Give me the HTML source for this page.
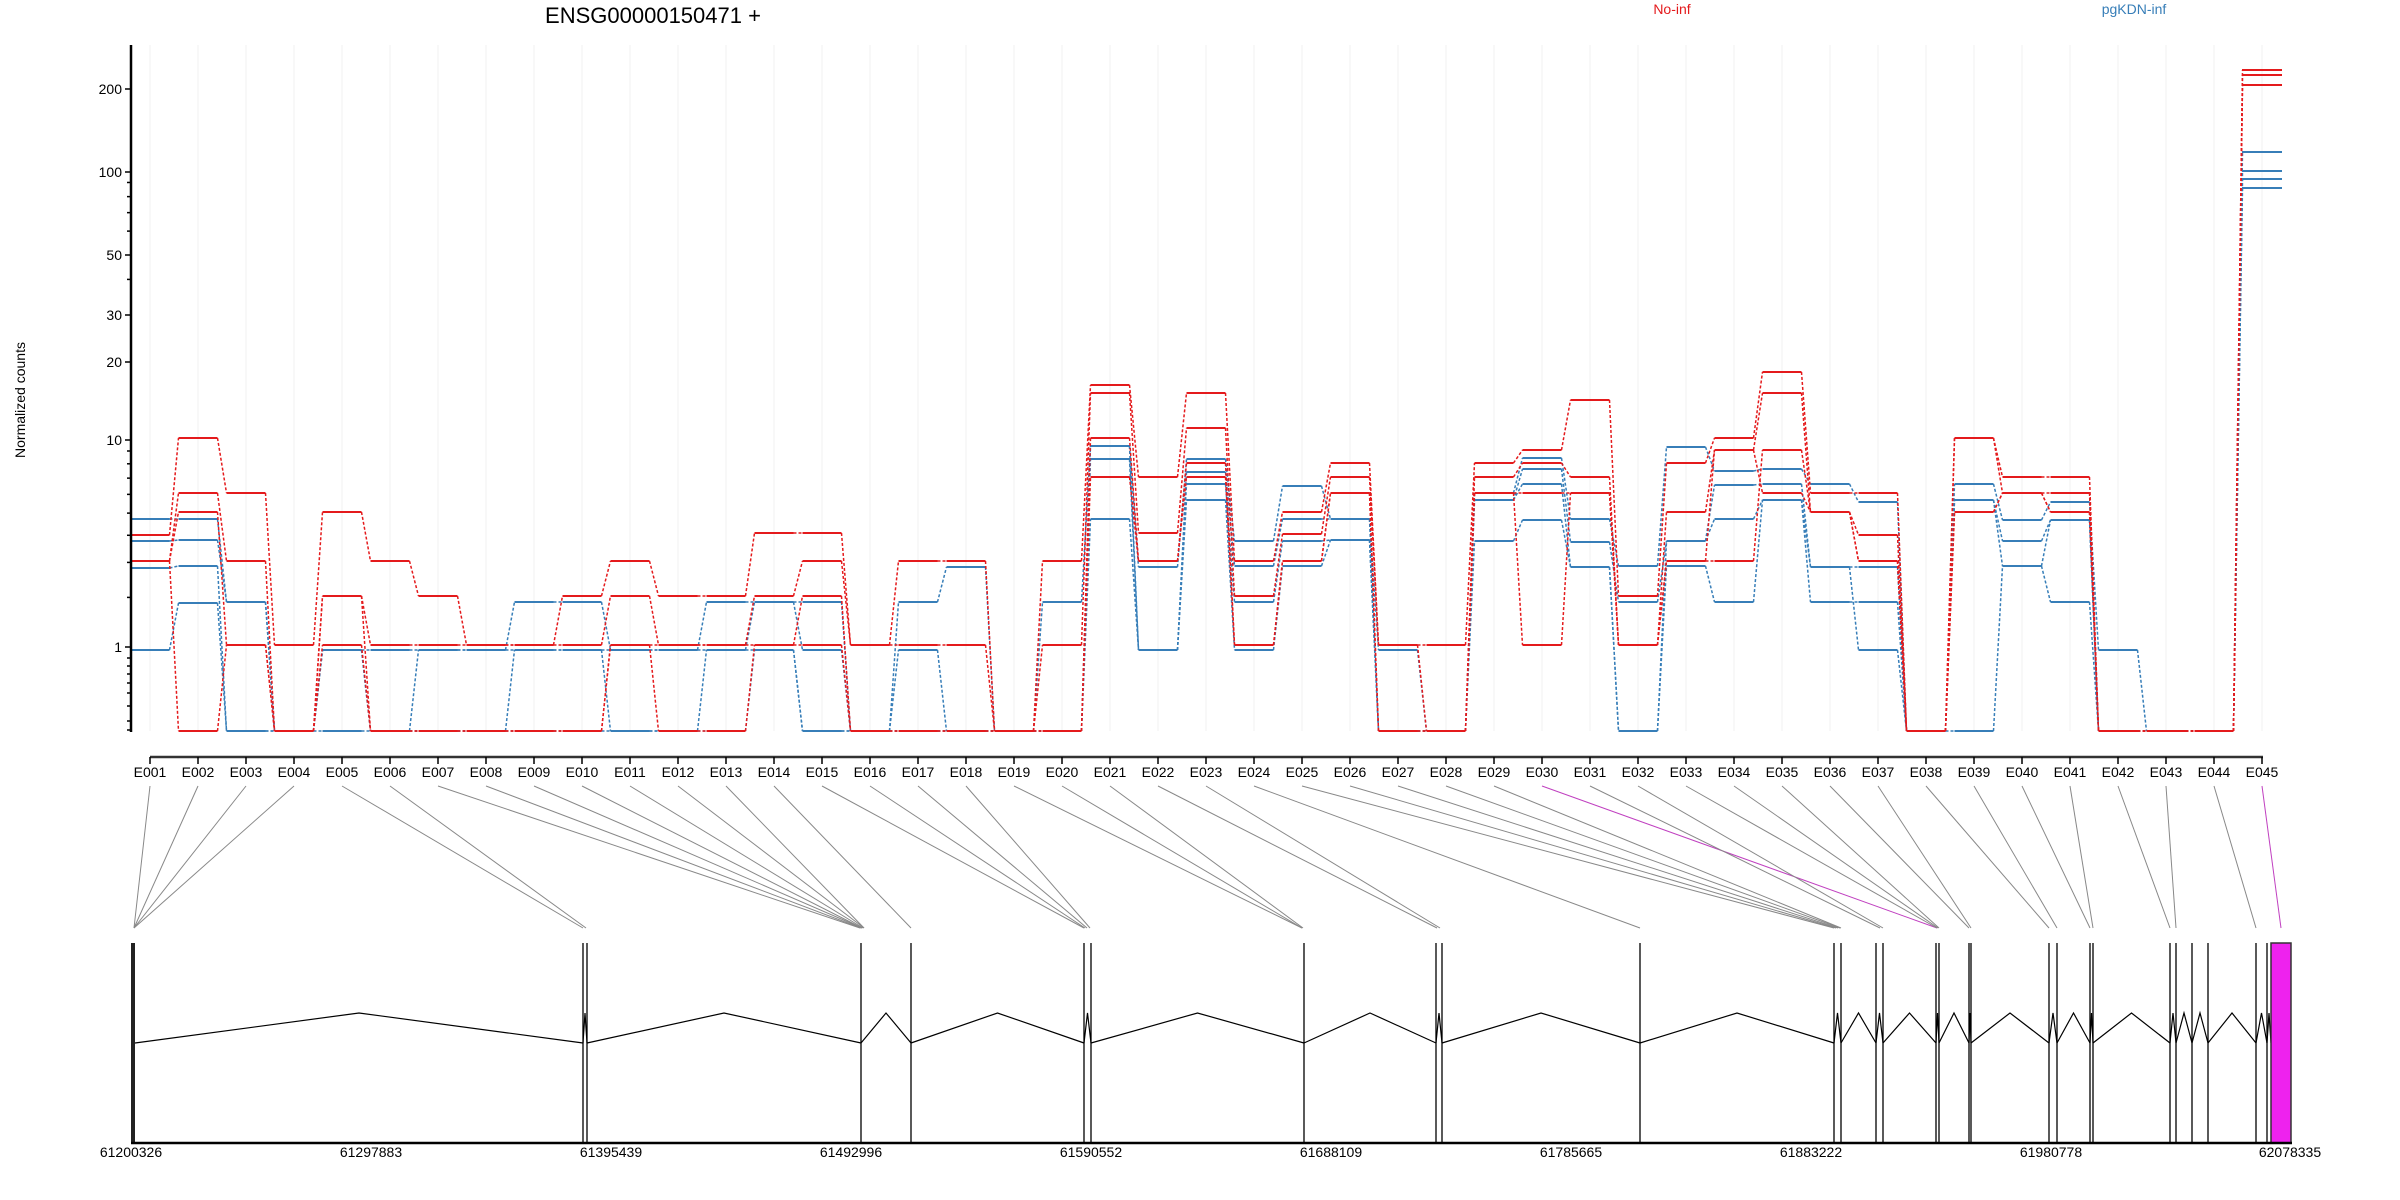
<!DOCTYPE html>
<html><head><meta charset="utf-8"><style>
html,body{margin:0;padding:0;background:#fff;}
svg{display:block;font-family:"Liberation Sans",Arial,sans-serif;}
</style></head><body>
<svg id="s" width="2400" height="1200" viewBox="0 0 2400 1200" xmlns="http://www.w3.org/2000/svg">
<rect width="2400" height="1200" fill="#fff"/>
<g id="grid"></g>
<g id="conn"></g>
<g id="gene"></g>
<g id="data"></g>
<g id="axes" stroke="#000"></g>
<text x="653" y="23" font-size="22" text-anchor="middle">ENSG00000150471 +</text>
<text x="1672" y="14" font-size="14" fill="#e41a1c" text-anchor="middle">No-inf</text>
<text x="2134" y="14" font-size="14" fill="#377eb8" text-anchor="middle">pgKDN-inf</text>
<text x="25" y="400" font-size="14" text-anchor="middle" transform="rotate(-90 25 400)">Normalized counts</text>
<g font-size="14" text-anchor="end">
<text x="122" y="94">200</text>
<text x="122" y="177">100</text>
<text x="122" y="260">50</text>
<text x="122" y="320">30</text>
<text x="122" y="367">20</text>
<text x="122" y="445">10</text>
<text x="122" y="652">1</text>
</g>
<g font-size="14" text-anchor="middle">
<text x="150" y="777">E001</text><text x="198" y="777">E002</text><text x="246" y="777">E003</text><text x="294" y="777">E004</text><text x="342" y="777">E005</text><text x="390" y="777">E006</text><text x="438" y="777">E007</text><text x="486" y="777">E008</text><text x="534" y="777">E009</text><text x="582" y="777">E010</text><text x="630" y="777">E011</text><text x="678" y="777">E012</text><text x="726" y="777">E013</text><text x="774" y="777">E014</text><text x="822" y="777">E015</text><text x="870" y="777">E016</text><text x="918" y="777">E017</text><text x="966" y="777">E018</text><text x="1014" y="777">E019</text><text x="1062" y="777">E020</text><text x="1110" y="777">E021</text><text x="1158" y="777">E022</text><text x="1206" y="777">E023</text><text x="1254" y="777">E024</text><text x="1302" y="777">E025</text><text x="1350" y="777">E026</text><text x="1398" y="777">E027</text><text x="1446" y="777">E028</text><text x="1494" y="777">E029</text><text x="1542" y="777">E030</text><text x="1590" y="777">E031</text><text x="1638" y="777">E032</text><text x="1686" y="777">E033</text><text x="1734" y="777">E034</text><text x="1782" y="777">E035</text><text x="1830" y="777">E036</text><text x="1878" y="777">E037</text><text x="1926" y="777">E038</text><text x="1974" y="777">E039</text><text x="2022" y="777">E040</text><text x="2070" y="777">E041</text><text x="2118" y="777">E042</text><text x="2166" y="777">E043</text><text x="2214" y="777">E044</text><text x="2262" y="777">E045</text>
</g>
<g font-size="14" text-anchor="middle">
<text x="131" y="1157">61200326</text><text x="371" y="1157">61297883</text><text x="611" y="1157">61395439</text><text x="851" y="1157">61492996</text><text x="1091" y="1157">61590552</text><text x="1331" y="1157">61688109</text><text x="1571" y="1157">61785665</text><text x="1811" y="1157">61883222</text><text x="2051" y="1157">61980778</text><text x="2290" y="1157">62078335</text>
</g>
</svg>
<script>
var NS="http://www.w3.org/2000/svg";
function el(p,t,a){var e=document.createElementNS(NS,t);for(var k in a)e.setAttribute(k,a[k]);document.getElementById(p).appendChild(e);return e;}
function X(i){return 150+48*i;}
for(var i=0;i<45;i++)el("grid","line",{x1:X(i),x2:X(i),y1:45,y2:731,stroke:"#f0f0f0","stroke-width":1});
el("axes","line",{x1:131,x2:131,y1:45,y2:732,"stroke-width":2.5});
[89,172,255,315,362,440,647].forEach(function(y){el("axes","line",{x1:125,x2:131,y1:y,y2:y,"stroke-width":1.5});});
var mv=[40,60,70,80,90,2,3,4,5,6,7,8,9];
mv.forEach(function(v){var y=731-280*Math.log10(v+1);el("axes","line",{x1:127,x2:131,y1:y,y2:y,"stroke-width":1.5});});
[658,666,674,683,693,706,721,730].forEach(function(y){el("axes","line",{x1:127,x2:131,y1:y,y2:y,"stroke-width":1.5});});
el("axes","line",{x1:150,x2:2263,y1:757,y2:757,"stroke-width":2.5,stroke:"#333"});
for(var i=0;i<45;i++)el("axes","line",{x1:X(i),x2:X(i),y1:757,y2:764,"stroke-width":1.5});
var R=[[535,561,561,561],[438,493,512,731],[493,561,645,645],[645,731,731,731],[512,596,596,645],[561,645,731,731],[596,645,731,731],[645,645,731,731],[645,645,731,731],[596,645,731,731],[561,596,645,645],[596,645,645,731],[596,645,645,731],[533,596,645,645],[533,561,596,645],[645,645,731,731],[561,645,731,731],[561,645,731,731],[731,731,731,731],[561,645,731,731],[385,393,438,477],[477,533,561,561],[393,428,463,477],[561,596,645,645],[512,534,561,561],[463,477,493,493],[645,645,731,731],[645,731,731,731],[463,477,493,493],[450,463,493,645],[400,477,493,493],[596,645,645,645],[463,512,561,561],[438,450,561,450],[372,393,450,493],[493,512,512,512],[493,535,561,561],[731,731,731,731],[438,438,512,512],[477,493,493,493],[477,493,512,512],[731,731,731,731],[731,731,731,731],[731,731,731,731],[70,75,85,85]];
var B=[[519,541,568,650],[519,540,566,603],[602,602,731,731],[731,731,731,731],[650,650,650,731],[650,731,731,731],[650,650,731,731],[650,650,731,731],[602,650,650,731],[602,650,650,731],[650,650,731,731],[650,650,731,731],[602,650,650,731],[602,602,650,650],[602,650,731,731],[731,731,731,731],[602,650,731,731],[567,731,731,731],[731,731,731,731],[602,731,731,731],[446,446,459,519],[567,650,650,650],[459,472,484,500],[541,566,602,650],[486,519,541,566],[519,519,540,540],[650,731,731,731],[731,731,731,731],[493,500,500,541],[458,469,484,520],[519,542,567,567],[566,602,731,731],[447,541,541,566],[471,485,519,602],[469,484,500,500],[484,567,602,567],[502,567,602,650],[731,731,731,731],[484,500,731,500],[520,541,566,566],[502,520,602,520],[650,731,731,731],[731,731,731,731],[731,731,731,731],[152,171,179,188]];
function series(D,col){
 for(var s=0;s<4;s++){
  for(var i=0;i<45;i++){
   var y=D[i][s],x=X(i),hw=(i==44)?20:19.5;
   el("data","line",{x1:x-hw,x2:x+hw,y1:y,y2:y,stroke:col,"stroke-width":2});
   if(i<44){var y2=D[i+1][s];el("data","line",{x1:x+hw,y1:y,x2:X(i+1)-19.5,y2:y2,stroke:col,"stroke-width":1.5,"stroke-dasharray":"3,2"});}
  }
 }
}
series(B,"#377eb8");series(R,"#e41a1c");
var G=[134,134,134,134,583,586,860,861,862,862,863,864,864,911,1084,1085,1087,1090,1302,1302,1303,1437,1440,1640,1834,1836,1838,1840,1841,1937,1880,1883,1937,1938,1939,1969,1971,2049,2057,2090,2093,2170,2176,2256,2281];
for(var i=0;i<45;i++){var c=(i==29||i==44)?"#c040c0":"#888";el("conn","line",{x1:X(i),y1:786,x2:G[i],y2:928,stroke:c,"stroke-width":1});}
var E=[134,583,587,861,911,1084,1091,1304,1436,1442,1640,1834,1841,1876,1883,1936,1939,1969,1971,2049,2057,2090,2093,2170,2176,2192,2208,2256,2267,2271];
el("gene","rect",{x:131,y:943,width:4,height:200,fill:"#222"});
for(var i=1;i<E.length-1;i++)el("gene","line",{x1:E[i],x2:E[i],y1:943,y2:1143,stroke:"#000","stroke-width":1.3});
for(var i=0;i<E.length-1;i++){var a=E[i]+(i==0?1:0),b=E[i+1],m=(a+b)/2;el("gene","polyline",{points:a+",1043 "+m+",1013 "+b+",1043",fill:"none",stroke:"#000","stroke-width":1.2});}
el("gene","rect",{x:2271,y:943,width:20,height:200,fill:"#ee22ee",stroke:"#333","stroke-width":1.5});
el("gene","line",{x1:131,x2:2292,y1:1143,y2:1143,stroke:"#000","stroke-width":2.5});
</script>
</body></html>
